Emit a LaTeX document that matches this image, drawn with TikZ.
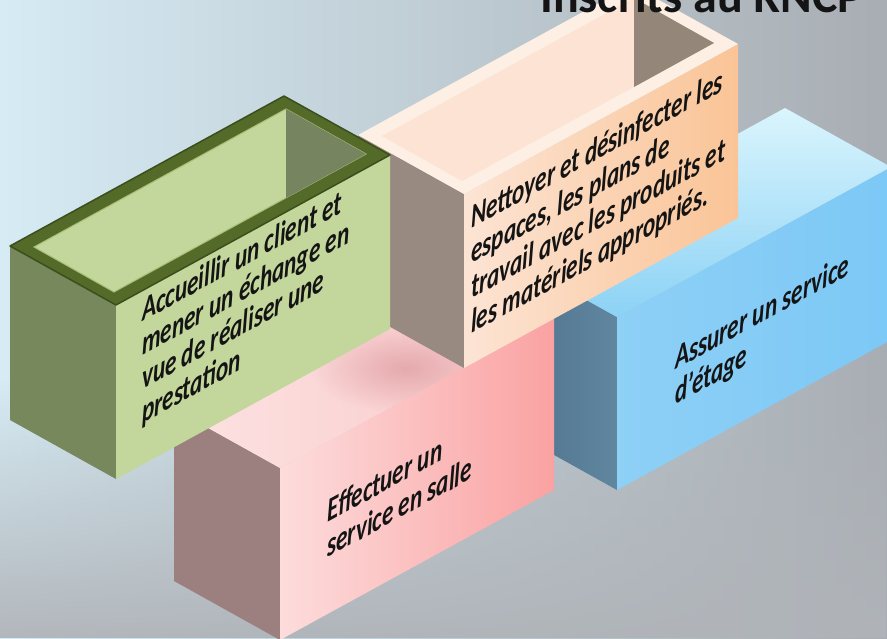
\documentclass[tikz,border=0pt]{standalone}
\usepackage{fontspec}
\setmainfont{Carlito}
\usetikzlibrary{shadings,fadings}
\definecolor{bgblue}{RGB}{214,235,244}
\definecolor{bgmid}{RGB}{207,229,239}
\definecolor{bggray}{RGB}{168,173,179}
\definecolor{bgbottom}{RGB}{176,180,185}
\definecolor{blueleftA}{RGB}{80,114,140}
\definecolor{blueleftB}{RGB}{96,134,160}
\definecolor{bluefrontL}{RGB}{142,208,246}
\definecolor{bluefrontR}{RGB}{124,200,246}
\definecolor{bluetopT}{RGB}{218,245,253}
\definecolor{bluetopB}{RGB}{140,210,245}
\definecolor{pinkleft}{RGB}{156,128,128}
\definecolor{pinkfrontL}{RGB}{253,220,220}
\definecolor{pinkfrontR}{RGB}{250,162,162}
\definecolor{pinktopL}{RGB}{253,226,226}
\definecolor{pinktopR}{RGB}{249,200,200}
\definecolor{pinkshadow}{RGB}{224,160,164}
\definecolor{peachleft}{RGB}{152,138,128}
\definecolor{peachfrontL}{RGB}{252,228,212}
\definecolor{peachfrontR}{RGB}{250,196,150}
\definecolor{peachrim}{RGB}{253,239,228}
\definecolor{peachinner}{RGB}{252,227,212}
\definecolor{peachwall}{RGB}{148,134,120}
\definecolor{greenleft}{RGB}{118,136,92}
\definecolor{greenfront}{RGB}{195,214,155}
\definecolor{greenrim}{RGB}{84,106,40}
\definecolor{greenrimdark}{RGB}{60,78,28}
\definecolor{greeninner}{RGB}{195,214,155}
\definecolor{greenwall}{RGB}{118,132,96}
\definecolor{greenhl}{RGB}{170,190,120}
\definecolor{txt}{RGB}{20,20,20}
\tikzfading[name=softspot, inner color=transparent!0, outer color=transparent!100]
\newcommand\faceline[4]{%
  \begin{scope}[shift={(#1,#2)}, cm={0.83,0.454,0,1.2,(0,0)}]
    \node[facetext] (#4) at (0,0) {#3};
  \end{scope}}
\begin{document}
\begin{tikzpicture}[x=1pt,y=-1pt,
  facetext/.style={anchor=base west, inner sep=0pt, transform shape,
    font=\fontsize{28}{34}\selectfont\bfseries\itshape, text=txt}]
\useasboundingbox (0,0) rectangle (887,638);
\clip (0,0) rectangle (887,638);
\shade[left color=bgblue, middle color=bgmid, right color=bggray] (0,0) rectangle (887,638);
\fill[bgbottom, path fading=north, opacity=0.95] (0,380) rectangle (887,638);

% blue box
\shade[left color=blueleftA, right color=blueleftB] (511,258) -- (617,317) -- (617,490) -- (511,431) -- cycle;
\shade[left color=bluefrontL, right color=bluefrontR] (617,317) -- (891,167) -- (891,340) -- (617,490) -- cycle;
\shade[top color=bluetopT, bottom color=bluetopB] (511,258) -- (785,108) -- (891,167) -- (617,317) -- cycle;

% pink box
\fill[pinkleft] (174,409) -- (280,468) -- (280,640) -- (174,581) -- cycle;
\shade[left color=pinkfrontL, right color=pinkfrontR] (280,468) -- (554,318) -- (554,490) -- (280,640) -- cycle;
\shade[left color=pinktopL, right color=pinktopR] (174,409) -- (448,259) -- (554,318) -- (280,468) -- cycle;
\begin{scope}
  \clip (174,409) -- (448,259) -- (554,318) -- (280,468) -- cycle;
  \fill[pinkshadow, path fading=softspot, fit fading=true, opacity=0.8] (405,368) ellipse [x radius=95, y radius=45];
\end{scope}

% peach box
\fill[peachleft] (358,135) -- (464,194) -- (464,368) -- (358,309) -- cycle;
\shade[left color=peachfrontL, right color=peachfrontR] (464,194) -- (738,44) -- (738,218) -- (464,368) -- cycle;
\fill[peachrim] (358,135) -- (632,-15) -- (738,44) -- (464,194) -- cycle;
\fill[peachinner] (382,136) -- (634,-2) -- (714,43) -- (462,181) -- cycle;
\fill[peachwall] (634,-2) -- (714,43) -- (634,87) -- cycle;

% green box
\fill[greenleft] (10,246) -- (116,305) -- (116,479) -- (10,420) -- cycle;
\fill[greenfront] (116,305) -- (390,155) -- (390,329) -- (116,479) -- cycle;
\fill[greenrim, draw=greenrimdark, line width=1.5pt, line join=round] (10,246) -- (284,96) -- (390,155) -- (116,305) -- cycle;
\fill[greeninner, draw=greenhl, line width=1pt] (34,247) -- (286,109) -- (366,154) -- (114,292) -- cycle;
\fill[greenwall] (286,109) -- (366,154) -- (286,198) -- cycle;

% texts
\faceline{142}{322}{Accueillir un client et}{g1}
\faceline{142}{356}{mener un échange en}{g2}
\faceline{142}{390}{vue de réaliser une}{g3}
\faceline{142}{424}{prestation}{g4}

\faceline{471}{229}{Nettoyer et désinfecter les}{p1}
\faceline{471}{264}{espaces, les plans de}{p2}
\faceline{471}{299}{travail avec les produits et}{p3}
\faceline{471}{334}{les matériels appropriés.}{p4}

\faceline{327}{523}{Effectuer un}{k1}
\faceline{327}{558}{service en salle}{k2}

\faceline{675}{370}{Assurer un service}{b1}
\faceline{675}{405}{d’étage}{b2}

\node[anchor=base west, inner sep=0pt, font=\fontsize{48}{50}\selectfont\bfseries, text=txt] (title) at (540,12) {Inscrits au RNCP};
\end{tikzpicture}
\end{document}
